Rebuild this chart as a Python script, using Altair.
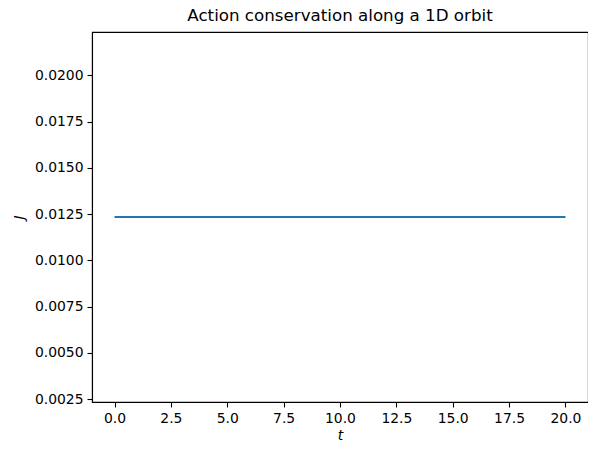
import altair as alt
import pandas as pd

t_vals = [0.0, 5.0, 10.0, 15.0, 20.0]
J_vals = [0.01234, 0.01234, 0.01234, 0.01234, 0.01234]
x_ticks = [0, 2.5, 5, 7.5, 10, 12.5, 15, 17.5, 20]
y_ticks = [0.0025, 0.005, 0.0075, 0.01, 0.0125, 0.015, 0.0175, 0.02]

df = pd.DataFrame({"t": t_vals, "J": J_vals})

font = "DejaVu Sans"

chart = alt.Chart(df).mark_line(color="#1f77b4", strokeWidth=2.1).encode(
    x=alt.X("t:Q", scale=alt.Scale(domain=[-1.0, 21.0], nice=False, zero=False),
            axis=alt.Axis(values=x_ticks, format=".1f", title="t", titleFontStyle="italic",
                          titleFontWeight="normal", titleFontSize=14, titlePadding=4)),
    y=alt.Y("J:Q", scale=alt.Scale(domain=[0.00234, 0.02234], nice=False, zero=False),
            axis=alt.Axis(values=y_ticks, format=".4f", title="J", titleFontStyle="italic",
                          titleFontWeight="normal", titleFontSize=14, titlePadding=8)),
).properties(
    width=496, height=370,
    title=alt.TitleParams("Action conservation along a 1D orbit", fontSize=16.7,
                          fontWeight="normal", font=font, color="black", offset=7),
    autosize=alt.AutoSizeParams(type="none"),
    padding={"left": 84, "top": 24, "right": 0, "bottom": 40},
).configure_axis(
    grid=False, domainColor="black", domainWidth=1.1, tickColor="black", tickWidth=1.1,
    tickSize=5, labelPadding=4, labelFont=font, labelFontSize=13.9, labelColor="black",
    titleFont=font, titleColor="black",
).configure_view(stroke="black", strokeWidth=1.1)

chart.save("out.html", embed_options={"renderer": "svg", "actions": False})
